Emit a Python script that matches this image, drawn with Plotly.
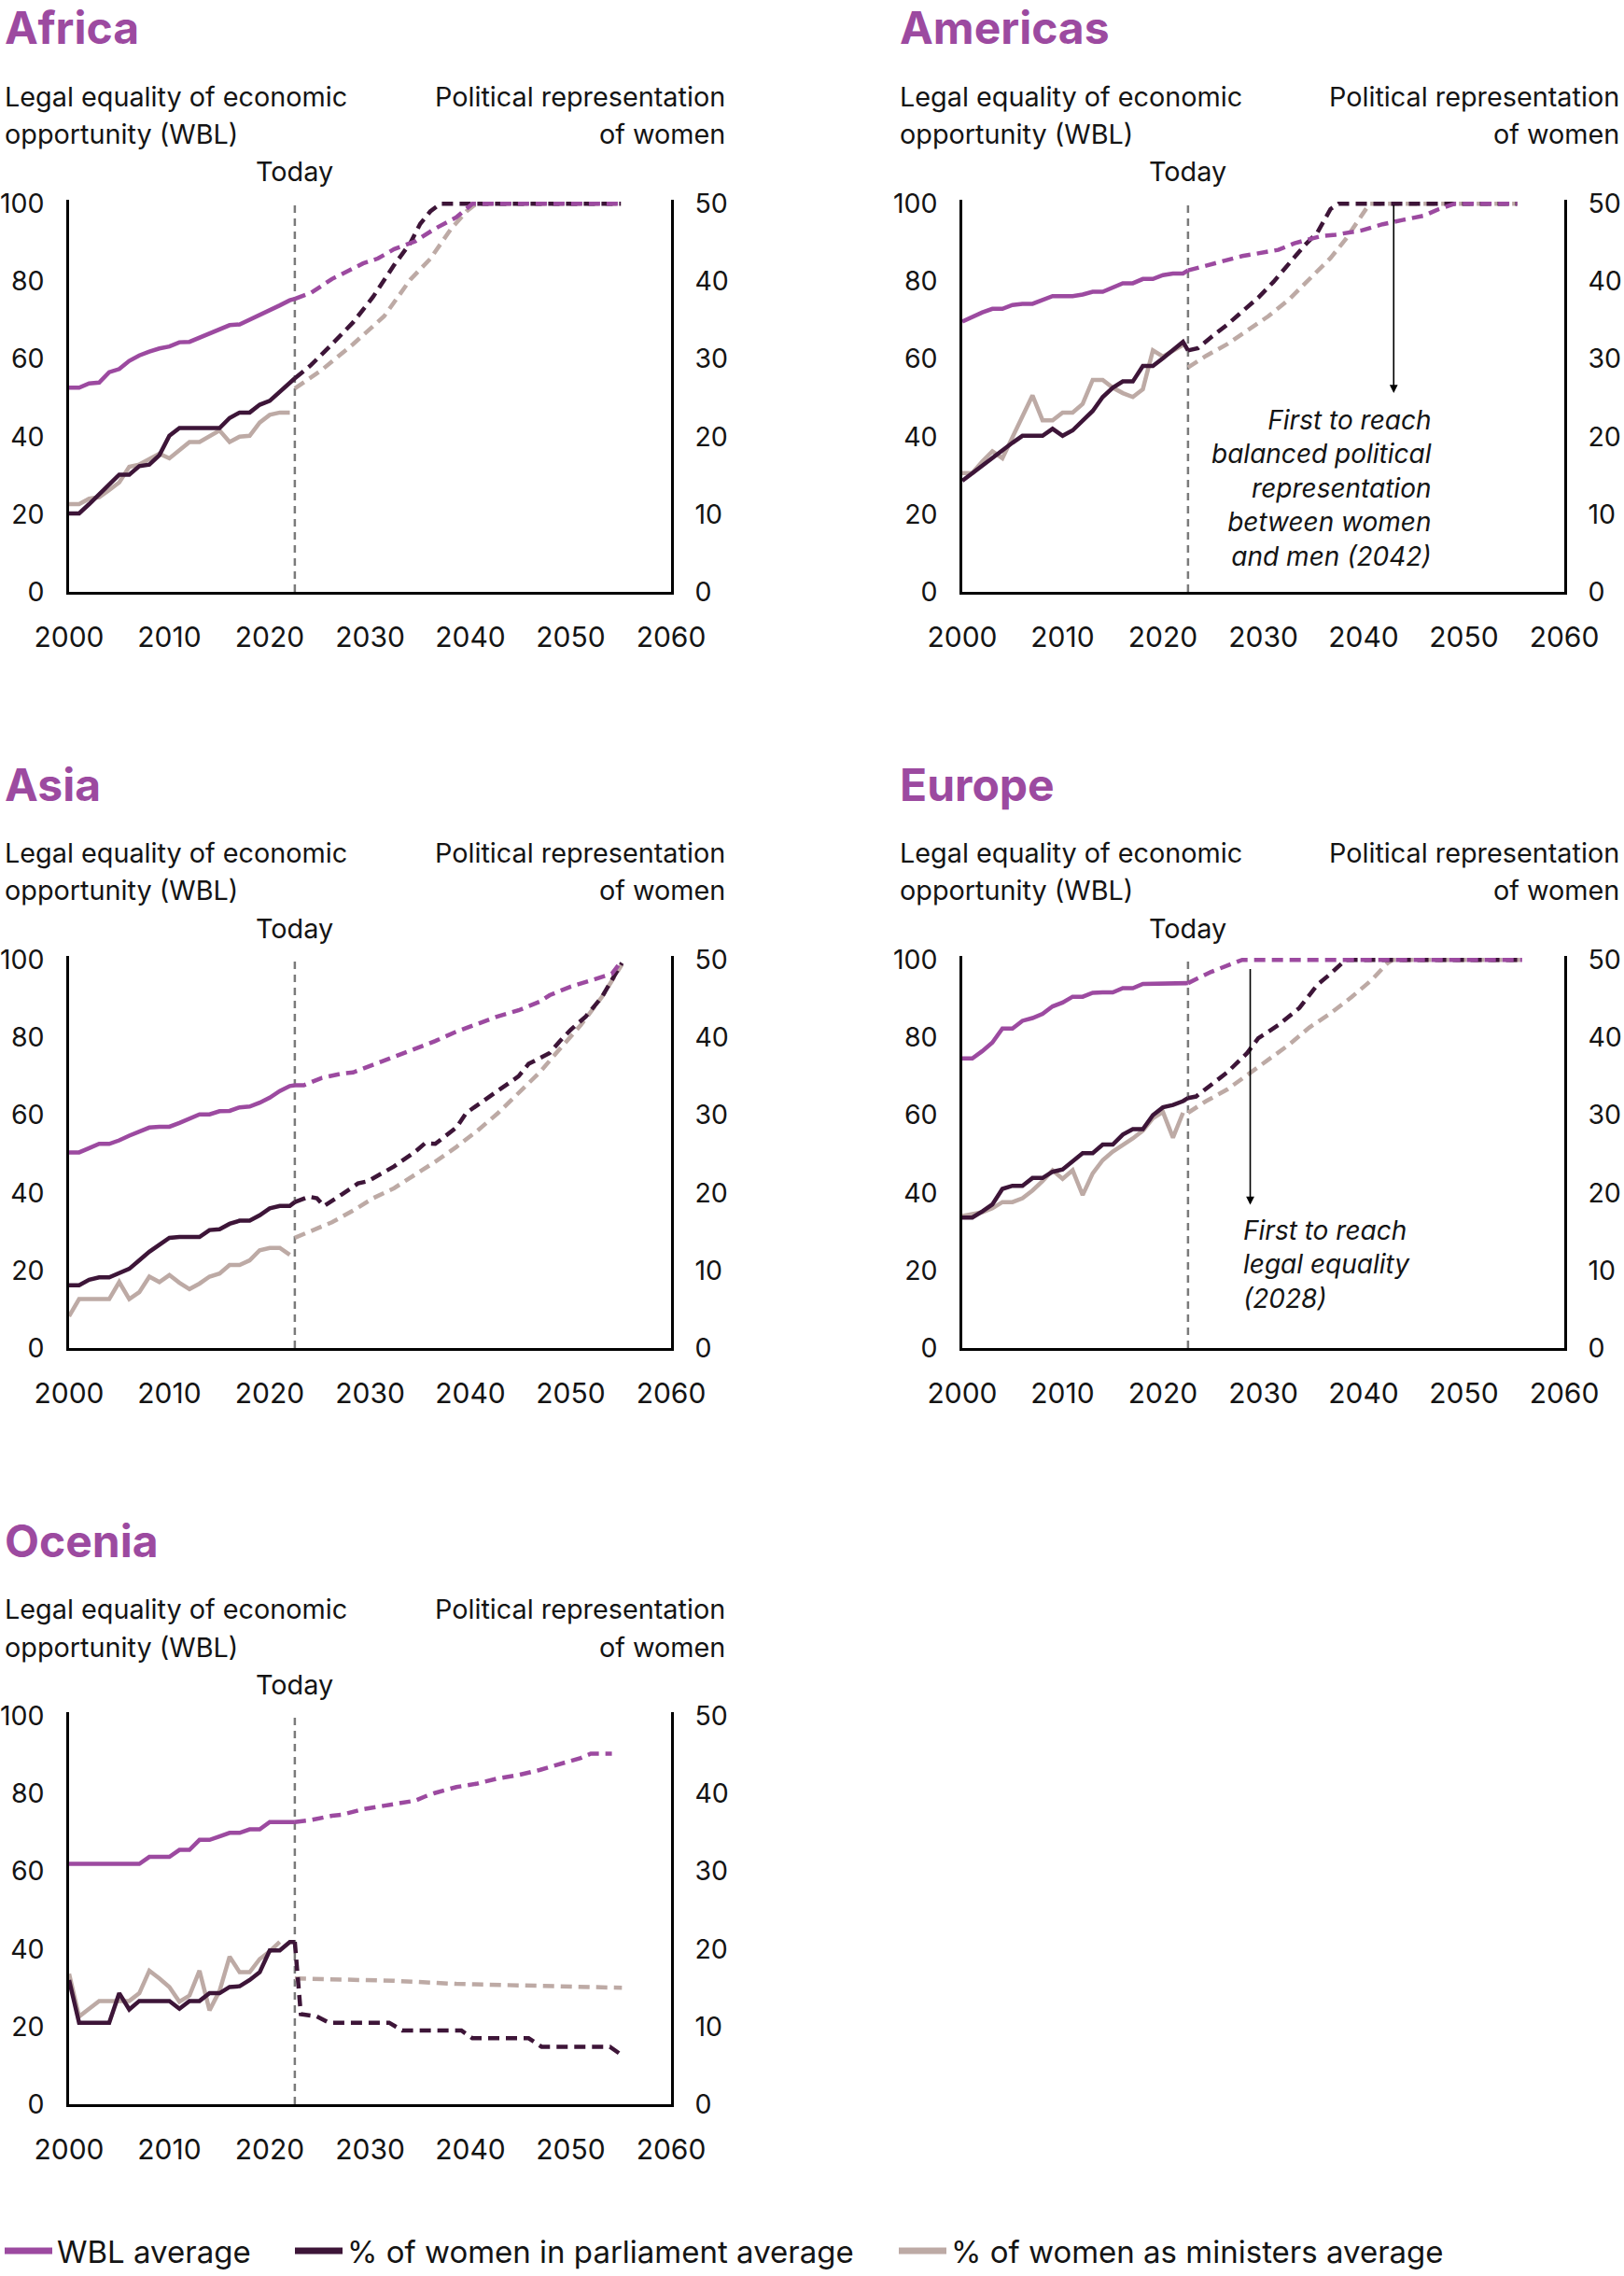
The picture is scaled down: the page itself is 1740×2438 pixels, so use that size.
import plotly.graph_objects as go

# ---------------- DATA ----------------
HIST_YEARS = list(range(2000, 2023)) + [2022.5]
TODAY = 2022.5
X_TICKS = [2000, 2010, 2020, 2030, 2040, 2050, 2060]
WBL_TICKS = [0, 20, 40, 60, 80, 100]
POL_TICKS = [0, 10, 20, 30, 40, 50]

REGIONS = ["Africa", "Americas", "Asia", "Europe", "Ocenia"]
LEFT_TITLE = ["Legal equality of economic", "opportunity (WBL)"]
RIGHT_TITLE = ["Political representation", "of women"]

# Africa
africa_wbl = [52.6, 52.6, 53.7, 53.9, 56.6, 57.4, 59.5, 60.9, 61.9, 62.7, 63.2, 64.3,
              64.4, 65.5, 66.6, 67.7, 68.7, 68.9, 70.1, 71.2, 72.5, 73.8, 75.1, 75.5]
africa_parl = [10.1, 10.1, 11.3, 12.6, 13.8, 15.1, 15.1, 16.2, 16.4, 17.6, 20.1, 21.1,
               21.1, 21.1, 21.1, 21.1, 22.4, 23.1, 23.1, 24.1, 24.6, 25.8, 27.0, 27.5]
africa_min = [11.3, 11.3, 12.0, 12.2, 13.1, 14.1, 16.1, 16.4, 17.1, 17.8, 17.2, 18.2,
              19.3, 19.3, 20.0, 20.8, 19.3, 20.0, 20.1, 21.8, 22.8, 23.1, 23.1]
africa_wbl_px = [2022.5, 2024.1, 2026.2, 2029.3, 2030.8, 2032.4, 2034.5, 2036.5, 2038.6, 2040.2, 2055]
africa_wbl_py = [75.5, 77.0, 80.6, 84.6, 85.9, 88.3, 90.3, 93.6, 96.5, 100, 100]
africa_parl_px = [2022.5, 2024.1, 2026.2, 2028.3, 2030.3, 2032.4, 2034, 2035, 2036, 2037, 2055]
africa_parl_py = [27.5, 29.2, 31.9, 34.7, 38.0, 42.1, 44.9, 47.4, 49.0, 50, 50]
africa_min_px = [2022.5, 2025.2, 2028.3, 2031.4, 2034, 2036, 2038.1, 2039.6, 2040.6, 2055]
africa_min_py = [26.2, 28.6, 31.9, 35.5, 40.2, 42.9, 46.8, 49.0, 50, 50]

# Americas
americas_wbl = [69.6, 70.8, 72.0, 72.9, 72.9, 73.9, 74.2, 74.2, 75.2, 76.2, 76.2, 76.2,
                76.6, 77.3, 77.3, 78.3, 79.5, 79.5, 80.6, 80.6, 81.6, 82.0, 82.0, 82.8]
americas_parl = [14.3, 15.3, 16.3, 17.3, 18.2, 19.2, 20.1, 20.1, 20.1, 21.0, 20.1, 20.8,
                 22.0, 23.3, 25.1, 26.3, 27.1, 27.1, 29.1, 29.1, 30.1, 31.1, 32.2, 31.1]
americas_min = [15.3, 15.3, 16.8, 18.1, 17.2, 19.9, 22.6, 25.3, 22.1, 22.1, 23.1, 23.1,
                24.2, 27.3, 27.3, 26.3, 25.6, 25.1, 26.1, 31.1, 30.3, 31.0, 31.8]
americas_wbl_px = [2022.5, 2025.3, 2027.9, 2031.5, 2033.1, 2035.7, 2037.2, 2039.8, 2041.9,
                   2043.9, 2046, 2047.5, 2049.1, 2055.3]
americas_wbl_py = [82.8, 84.6, 86.5, 88.1, 89.8, 91.6, 92.0, 93.1, 94.7, 95.8, 96.9, 98.6, 100, 100]
americas_parl_px = [2022.5, 2023.5, 2024.8, 2026.4, 2027.9, 2029.5, 2031, 2032.6, 2034.1,
                    2035.4, 2036.7, 2037.5, 2055.3]
americas_parl_py = [31.1, 31.4, 32.8, 34.4, 36.1, 37.9, 39.9, 42.3, 44.6, 46.3, 49.3, 50, 50]
americas_min_px = [2022.5, 2024.3, 2026.4, 2028.4, 2030.5, 2032.6, 2034.6, 2036.7, 2038.2,
                   2039.8, 2040.6, 2055.3]
americas_min_py = [28.9, 30.4, 31.9, 33.6, 35.5, 37.7, 40.2, 43.0, 45.4, 48.5, 50, 50]

# Asia
asia_wbl = [50.4, 50.4, 51.5, 52.6, 52.6, 53.5, 54.7, 55.8, 56.8, 57.0, 57.0, 58.0,
            59.0, 60.2, 60.2, 61.0, 61.1, 62.0, 62.2, 63.2, 64.5, 66.2, 67.5, 67.7]
asia_parl = [8.1, 8.1, 8.8, 9.1, 9.1, 9.6, 10.2, 11.3, 12.4, 13.3, 14.2, 14.3,
             14.3, 14.3, 15.2, 15.3, 16.0, 16.4, 16.4, 17.1, 18.0, 18.3, 18.3, 18.8]
asia_min = [4.1, 6.3, 6.3, 6.3, 6.3, 8.5, 6.3, 7.2, 9.2, 8.5, 9.4, 8.4,
            7.6, 8.3, 9.2, 9.6, 10.7, 10.7, 11.3, 12.6, 12.9, 12.9, 12.0]
asia_wbl_px = [2022.5, 2023.4, 2025.2, 2027.2, 2028.3, 2030.3, 2032.4, 2034.5, 2036.5, 2038.6,
               2040.7, 2042.7, 2044.8, 2046.9, 2047.9, 2050, 2052, 2054.1, 2055.1]
asia_wbl_py = [67.7, 67.7, 69.6, 70.7, 71.0, 72.9, 74.9, 77.1, 79.1, 81.5, 83.5, 85.4, 87.0,
               89.2, 90.9, 93.1, 94.7, 96.4, 99.8]
asia_parl_px = [2022.5, 2023.9, 2024.7, 2025.4, 2027.2, 2028.8, 2029.8, 2032.4, 2034.5, 2035.5,
                2036.5, 2038.6, 2039.6, 2041.7, 2042.7, 2044.8, 2045.8, 2047.9, 2048.9, 2050,
                2051.5, 2053.1, 2055.1]
asia_parl_py = [18.8, 19.5, 19.3, 18.3, 19.8, 21.2, 21.5, 23.4, 25.3, 26.4, 26.3, 28.4, 30.3,
                32.2, 33.1, 35.0, 36.6, 38.0, 39.5, 41.0, 42.7, 45.2, 49.6]
asia_min_px = [2022.5, 2024.1, 2026.2, 2028.3, 2030.3, 2032.4, 2034.5, 2036.5, 2038.6, 2040.7,
               2042.7, 2044.8, 2046.9, 2048.9, 2051, 2053.1, 2055.1]
asia_min_py = [14.2, 15.1, 16.2, 17.7, 19.3, 20.6, 22.3, 24.0, 25.9, 28.0, 30.2, 32.8, 35.5,
               38.5, 41.6, 45.2, 49.4]

# Europe
europe_wbl = [74.6, 74.6, 76.5, 78.7, 82.3, 82.3, 84.3, 85.0, 86.1, 88.0, 89.0, 90.5,
              90.5, 91.5, 91.6, 91.6, 92.7, 92.7, 93.8, 93.8, 93.8, 93.8, 93.8, 94.0]
europe_parl = [16.8, 16.8, 17.6, 18.5, 20.5, 20.9, 20.9, 21.9, 21.9, 22.7, 23.0, 24.0,
               25.1, 25.1, 26.2, 26.2, 27.5, 28.2, 28.2, 30.0, 31.0, 31.3, 31.8, 32.2]
europe_min = [17.0, 17.2, 17.5, 18.0, 18.8, 18.8, 19.3, 20.3, 21.5, 22.9, 21.8, 22.9,
              19.7, 22.5, 24.2, 25.3, 26.1, 27.0, 28.0, 29.6, 30.4, 27.1, 30.3]
europe_wbl_px = [2022.5, 2024.8, 2027.9, 2055.8]
europe_wbl_py = [94.0, 96.9, 100, 100]
europe_parl_px = [2022.5, 2023.3, 2026.4, 2028.4, 2029.5, 2031.5, 2033.6, 2034.6, 2035.4,
                  2036.7, 2038.2, 2055.8]
europe_parl_py = [32.2, 32.4, 35.5, 38.0, 39.9, 41.6, 43.8, 45.4, 46.8, 48.2, 50, 50]
europe_min_px = [2022.5, 2024.3, 2026.4, 2028.4, 2030.5, 2032.6, 2034.6, 2036.7, 2038.8,
                 2040.8, 2042.4, 2042.9, 2055.8]
europe_min_py = [30.3, 31.8, 33.3, 35.2, 37.2, 39.1, 41.3, 43.1, 45.2, 47.4, 49.6, 50, 50]

# Ocenia
ocenia_wbl = [61.9, 61.9, 61.9, 61.9, 61.9, 61.9, 61.9, 61.9, 63.7, 63.7, 63.7, 65.5,
              65.5, 68.1, 68.1, 69.0, 69.9, 69.9, 70.8, 70.8, 72.7, 72.7, 72.7, 72.7]
ocenia_parl = [16.0, 10.5, 10.5, 10.5, 10.5, 14.3, 12.2, 13.3, 13.3, 13.3, 13.3, 12.3,
               13.3, 13.3, 14.3, 14.3, 15.1, 15.2, 16.0, 17.0, 19.8, 19.8, 20.9, 20.9]
ocenia_min = [16.8, 11.3, 12.3, 13.3, 13.3, 13.3, 13.3, 14.3, 17.2, 16.2, 15.1, 13.2,
              14.0, 17.2, 12.1, 14.6, 19.0, 17.0, 17.0, 18.7, 19.7, 20.9]
ocenia_wbl_px = [2022.5, 2024.1, 2026.2, 2027.2, 2029.3, 2031.4, 2032.4, 2034.5, 2035.5, 2036.5,
                 2038.6, 2040.7, 2042.7, 2044.8, 2046.9, 2048.9, 2051, 2052, 2054.1]
ocenia_wbl_py = [72.7, 73.2, 74.3, 74.6, 76.0, 76.9, 77.1, 78.2, 79.3, 80.2, 81.7, 82.6, 83.9,
                 84.8, 86.1, 87.6, 89.2, 90.3, 90.3]
ocenia_parl_px = [2022.5, 2023.1, 2024.7, 2025.9, 2031.9, 2033.2, 2039.1, 2040.2, 2045.8,
                  2047.1, 2053.9, 2054.9]
ocenia_parl_py = [20.9, 11.6, 11.3, 10.5, 10.5, 9.5, 9.5, 8.5, 8.5, 7.4, 7.4, 6.5]
ocenia_min_px = [2022.5, 2026.2, 2032.4, 2038.6, 2044.8, 2050, 2055.1]
ocenia_min_py = [16.2, 16.1, 15.9, 15.5, 15.3, 15.1, 15.0]

DATA = {
    "Africa": (africa_wbl, africa_parl, africa_min, africa_wbl_px, africa_wbl_py,
               africa_parl_px, africa_parl_py, africa_min_px, africa_min_py),
    "Americas": (americas_wbl, americas_parl, americas_min, americas_wbl_px, americas_wbl_py,
                 americas_parl_px, americas_parl_py, americas_min_px, americas_min_py),
    "Asia": (asia_wbl, asia_parl, asia_min, asia_wbl_px, asia_wbl_py,
             asia_parl_px, asia_parl_py, asia_min_px, asia_min_py),
    "Europe": (europe_wbl, europe_parl, europe_min, europe_wbl_px, europe_wbl_py,
               europe_parl_px, europe_parl_py, europe_min_px, europe_min_py),
    "Ocenia": (ocenia_wbl, ocenia_parl, ocenia_min, ocenia_wbl_px, ocenia_wbl_py,
               ocenia_parl_px, ocenia_parl_py, ocenia_min_px, ocenia_min_py),
}

LEGEND_NAMES = ["WBL average", "% of women in parliament average", "% of women as ministers average"]

# ---------------- STYLE / LAYOUT ----------------
W, H = 1740, 2438
FONT = "Inter"
FS = 28.8
FS_YT = 28.5
FS_XT = 30
TXT = "#141414"
C_WBL = "#9c4aa0"
C_PARL = "#3d1538"
C_MIN = "#bdaaa5"
C_TODAY = "#7a7a7a"
LW = 4.5
DASH = "12px,7px"

COL_X = [(74, 719), (1031, 1676)]
COL_TL = [3, 962]
COL_TR = [779, 1737]
ROW_OFF = [0, 810, 1620]
PLOT_TOP, PLOT_BOT = 214, 634
POS = [(0, 0), (0, 1), (1, 0), (1, 1), (2, 0)]


def py(p):
    return 1 - p / H


fig = go.Figure()
layout = dict(
    width=W, height=H, margin=dict(l=0, r=0, t=0, b=0, pad=0, autoexpand=False),
    paper_bgcolor="white", plot_bgcolor="white",
    font=dict(family=FONT, size=FS, color=TXT),
    showlegend=True,
)
annotations = []
shapes = []

for i, name in enumerate(REGIONS):
    r, c = POS[i]
    off = ROW_OFF[r]
    x0, x1 = COL_X[c]
    xn = i + 1
    yb = 2 * i + 1
    yo = 2 * i + 2
    xs = "x" if xn == 1 else f"x{xn}"
    ybs = "y" if yb == 1 else f"y{yb}"
    yos = f"y{yo}"
    xkey = "xaxis" if xn == 1 else f"xaxis{xn}"
    ybkey = "yaxis" if yb == 1 else f"yaxis{yb}"
    yokey = f"yaxis{yo}"

    axis_common = dict(ticks="", showgrid=False, zeroline=False, automargin=False,
                       showline=True, linecolor="black", linewidth=2.5)
    dom_y = [py(PLOT_BOT + off), py(PLOT_TOP + off)]
    layout[xkey] = dict(domain=[x0 / W, x1 / W], range=[2000, 2060], anchor=ybs,
                        tickvals=X_TICKS, ticklabelstandoff=20,
                        tickfont=dict(size=FS_XT, color=TXT, family=FONT), **axis_common)
    layout[ybkey] = dict(domain=dom_y, range=[0, 50.5], anchor=xs, side="right",
                         tickvals=POL_TICKS, ticklabelstandoff=17,
                         tickfont=dict(size=FS_YT, color=TXT, family=FONT), **axis_common)
    layout[yokey] = dict(range=[0, 101], anchor=xs, overlaying=ybs, side="left",
                         tickvals=WBL_TICKS, ticklabelstandoff=18,
                         tickfont=dict(size=FS_YT, color=TXT, family=FONT), **axis_common)

    (wbl, parl, mins, wpx, wpy, ppx, ppy, mpx, mpy) = DATA[name]

    def add(x, y, color, yaxis, dash=None):
        fig.add_trace(go.Scatter(x=x, y=y, mode="lines", xaxis=xs, yaxis=yaxis,
                                 line=dict(color=color, width=LW, dash=dash),
                                 showlegend=False, hoverinfo="skip"))

    add(HIST_YEARS[:len(mins)], mins, C_MIN, ybs)
    add(mpx, mpy, C_MIN, ybs, DASH)
    add(HIST_YEARS[:len(parl)], parl, C_PARL, ybs)
    add(ppx, ppy, C_PARL, ybs, DASH)
    add(HIST_YEARS[:len(wbl)], wbl, C_WBL, yos)
    add(wpx, wpy, C_WBL, yos, DASH)

    shapes.append(dict(type="line", xref=xs, yref=f"{ybs} domain", x0=TODAY, x1=TODAY,
                       y0=0, y1=0.99, layer="below",
                       line=dict(color=C_TODAY, width=2.5, dash="8px,6px")))

    tl = COL_TL[c] / W
    tr = COL_TR[c] / W
    annotations.append(
        dict(text=f"<b>{name}</b>", x=tl, y=py(30 + off), xref="paper", yref="paper",
             xanchor="left", yanchor="middle", showarrow=False,
             font=dict(size=48, color=C_WBL, family=FONT)))
    for k, (lt, rt) in enumerate(zip(LEFT_TITLE, RIGHT_TITLE)):
        yy = py(103 + 41 * k + off)
        annotations.append(dict(text=lt, x=tl, y=yy, xref="paper", yref="paper",
                                xanchor="left", yanchor="middle", showarrow=False,
                                font=dict(size=FS, color=TXT)))
        annotations.append(dict(text=rt, x=tr, y=yy, xref="paper", yref="paper",
                                xanchor="right", yanchor="middle", showarrow=False,
                                font=dict(size=FS, color=TXT)))
    annotations.append(
        dict(text="Today", x=TODAY, y=py(184 + off), xref=xs, yref="paper",
             xanchor="center", yanchor="middle", showarrow=False,
             font=dict(size=FS, color=TXT)))

    if name == "Americas":
        annotations += [
            dict(text="", x=2043, y=51.2, ax=2043, ay=100, xref=xs, yref=yos,
                 axref=xs, ayref=yos, showarrow=True, arrowhead=2, arrowsize=1.1,
                 arrowwidth=1.6, arrowcolor="black", standoff=0, startstandoff=0),
            dict(text="First to reach<br>balanced political<br>representation<br>between women<br>and men (2042)",
                 x=2047, y=26.8, xref=xs, yref=yos, xanchor="right", yanchor="middle",
                 align="right", showarrow=False,
                 font=dict(size=28, color=TXT, style="italic")),
        ]
    if name == "Europe":
        annotations += [
            dict(text="", x=2028.7, y=36.9, ax=2028.7, ay=98, xref=xs, yref=yos,
                 axref=xs, ayref=yos, showarrow=True, arrowhead=2, arrowsize=1.1,
                 arrowwidth=1.6, arrowcolor="black", standoff=0, startstandoff=0),
            dict(text="First to reach<br>legal equality<br>(2028)",
                 x=2027.8, y=21.5, xref=xs, yref=yos, xanchor="left", yanchor="middle",
                 align="left", showarrow=False,
                 font=dict(size=28, color=TXT, style="italic")),
        ]

# legend entries (one legend per entry to place them like the reference)
leg_keys = ["legend", "legend2", "legend3"]
leg_x = [0, 311, 958]
for name, color, key, lx in zip(LEGEND_NAMES, [C_WBL, C_PARL, C_MIN], leg_keys, leg_x):
    fig.add_trace(go.Scatter(x=[None], y=[None], mode="lines", xaxis="x", yaxis="y",
                             line=dict(color=color, width=7), name=name, legend=key,
                             showlegend=True, hoverinfo="skip"))
    layout[key] = dict(x=lx / W, y=py(2411), xanchor="left", yanchor="middle",
                       orientation="h", bgcolor="rgba(0,0,0,0)", borderwidth=0,
                       font=dict(size=33, color=TXT, family=FONT), itemwidth=51)

layout["annotations"] = annotations
layout["shapes"] = shapes
fig.update_layout(**layout)
fig.write_html("out.html", config={"displayModeBar": False},
               post_script="document.body.style.margin='0';document.body.style.overflow='hidden';")
